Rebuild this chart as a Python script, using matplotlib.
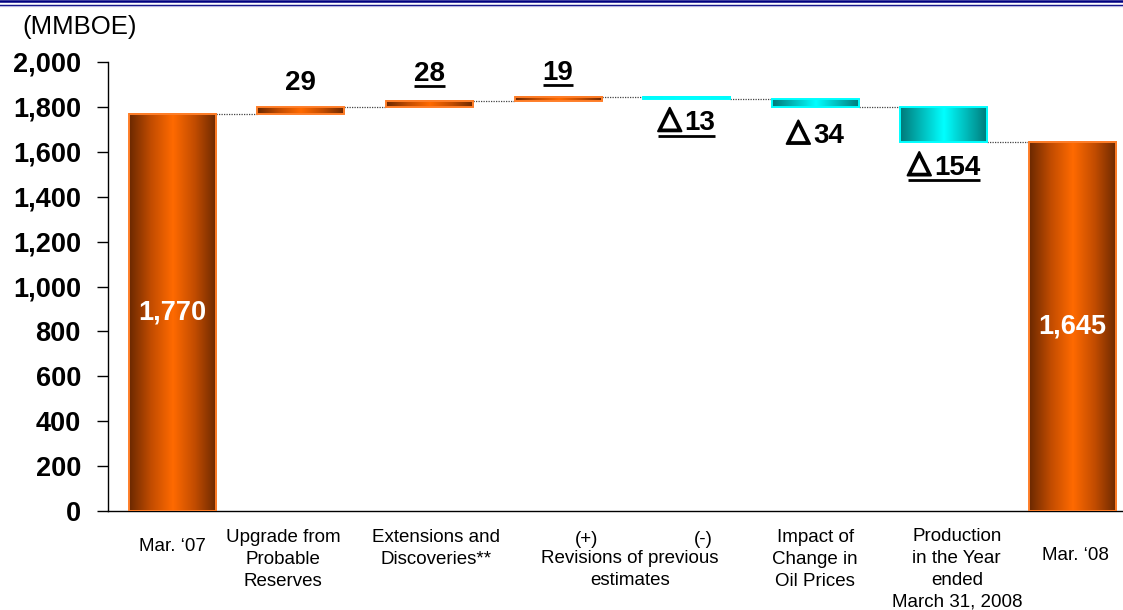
import numpy as np
import matplotlib
matplotlib.use("Agg")
import matplotlib.pyplot as plt
import matplotlib.patheffects as pe
from matplotlib.colors import LinearSegmentedColormap
from matplotlib.lines import Line2D

plt.rcParams['font.family'] = ['Liberation Sans', 'DejaVu Sans']

# reserves bridge, MMBOE
start_value = 1770
end_value = 1645
changes = [29, 28, 19, -13, -34, -154]
y_ticks = [0, 200, 400, 600, 800, 1000, 1200, 1400, 1600, 1800, 2000]

cat_labels = [
    "Mar. \u201807",
    "Upgrade from\nProbable\nReserves",
    "Extensions and\nDiscoveries**",
    "(+)",
    "(-)",
    "Impact of\nChange in\nOil Prices",
    "Production\nin the Year\nended\nMarch 31, 2008",
    "Mar. \u201808",
]
group_label = "Revisions of previous\nestimates"

# label placement (x in data units, top of text in pixels below the top of the figure)
cat_x = [0.0, 0.86, 2.05, 3.22, 4.13, 5.0, 6.1, 7.02]
cat_top = [538, 529, 529, 531, 531, 529, 528, 547]
group_x, group_top = 3.56, 550
label_offset = [24, 27, 24, -24, -29, -26]
underlined = [False, True, True, True, False, True]

W, H = 1123, 610
fig = plt.figure(figsize=(W / 100, H / 100), dpi=100)
ax = fig.add_axes([108 / W, 99 / H, 8 * 128.6 / W, 449 / H])

orange_cmap = LinearSegmentedColormap.from_list(
    "orange_bar", ["#6a2800", "#c24c00", "#ff6a00", "#c24c00", "#6a2800"])
cyan_cmap = LinearSegmentedColormap.from_list(
    "cyan_bar", ["#007878", "#00bcbc", "#00ffff", "#00bcbc", "#007878"])
grad = np.linspace(0, 1, 256).reshape(1, -1)

# running totals -> bar bottoms / heights
values = [start_value] + changes + [end_value]
bottoms, heights, levels = [], [], []
total = start_value
bottoms.append(0)
heights.append(start_value)
levels.append(total)
for c in changes:
    bottoms.append(total if c > 0 else total + c)
    heights.append(abs(c))
    total += c
    levels.append(total)
bottoms.append(0)
heights.append(end_value)
levels.append(end_value)

x = np.arange(len(values))
width = 0.677
is_up = [True] + [c > 0 for c in changes] + [True]
edge_cols = ["#ff7f2a" if up else "#00ffff" for up in is_up]

bars = ax.bar(x, heights, bottom=bottoms, width=width, facecolor="none",
              edgecolor=edge_cols, linewidth=1.4, zorder=3)
for bar, up in zip(bars, is_up):
    x0, y0 = bar.get_x(), bar.get_y()
    ax.imshow(grad, cmap=orange_cmap if up else cyan_cmap, aspect="auto",
              extent=(x0, x0 + bar.get_width(), y0, y0 + bar.get_height()),
              interpolation="bilinear", zorder=2)

# dotted connectors between consecutive bars
for i in range(len(values) - 1):
    ax.plot([i + width / 2, i + 1 - width / 2], [levels[i], levels[i]],
            color="#444444", lw=0.9, linestyle=(0, (1, 1)), zorder=1)

ax.set_xlim(-0.5, 7.5)
ax.set_ylim(0, 2000)
ax.set_yticks(y_ticks)
ax.set_yticklabels([f"{v:,}" for v in y_ticks], fontsize=19.5, fontweight="bold")
ax.tick_params(axis="y", length=8, width=1, pad=11.5, direction="out")
ax.set_xticks([])
for side in ("top", "right"):
    ax.spines[side].set_visible(False)
for side in ("left", "bottom"):
    ax.spines[side].set_linewidth(1.0)

# totals inside the end bars
for i in (0, len(values) - 1):
    ax.text(x[i], values[i] / 2, f"{values[i]:,}", color="white", fontsize=19.5,
            fontweight="bold", ha="center", va="center", zorder=4)

# change labels; decreases get a bold delta sign in front
fig.canvas.draw()
renderer = fig.canvas.get_renderer()
label_parts = []
for i, c in enumerate(changes):
    xi = i + 1
    ref = bottoms[xi] + heights[xi] if c > 0 else bottoms[xi]
    num = ax.annotate(f"{abs(c)}", xy=(xi, ref), xytext=(0, label_offset[i]),
                      textcoords="offset pixels", ha="center", va="center",
                      fontsize=20, fontweight="bold", zorder=4)
    parts = [num]
    if c < 0:
        tri = ax.annotate("\u25b3", xy=(xi, ref), xytext=(0, label_offset[i]),
                          textcoords="offset pixels", ha="center", va="center",
                          fontsize=22, fontweight="bold", family="DejaVu Sans",
                          zorder=4,
                          path_effects=[pe.withStroke(linewidth=1.5, foreground="black")])
        w_num = num.get_window_extent(renderer).width
        w_tri = tri.get_window_extent(renderer).width
        gap = 3
        total_w = w_tri + gap + w_num
        tri.xyann = (-total_w / 2 + w_tri / 2, label_offset[i] + 4.5)
        num.xyann = (total_w / 2 - w_num / 2, label_offset[i])
        parts = [tri, num]
    label_parts.append(parts)

# category labels below the axis
for lx, lt, top in zip(cat_x, cat_labels, cat_top):
    ax.annotate(lt, xy=(lx, 0), xycoords=("data", "axes fraction"),
                xytext=(0, 511 - top), textcoords="offset pixels",
                ha="center", va="top", fontsize=13.5, linespacing=1.37)
ax.annotate(group_label, xy=(group_x, 0), xycoords=("data", "axes fraction"),
            xytext=(0, 511 - group_top), textcoords="offset pixels",
            ha="center", va="top", fontsize=13.5, linespacing=1.37)

fig.text(22 / W, 1 - 27 / H, "(MMBOE)", fontsize=18.5, va="center", ha="left")

# header rules
for y_px, lw, col in [(1.2, 1.8, "#000080"), (4.7, 1.0, "#000080"), (6.4, 0.9, "#b8b8e0")]:
    fig.add_artist(Line2D([0, 1], [1 - y_px / H] * 2, transform=fig.transFigure,
                          color=col, lw=lw))

# underline selected change labels
fig.canvas.draw()
inv = fig.transFigure.inverted()
for parts, u in zip(label_parts, underlined):
    if not u:
        continue
    boxes = [p.get_window_extent(renderer) for p in parts]
    bx0 = min(b.x0 for b in boxes)
    bx1 = max(b.x1 for b in boxes)
    by = parts[-1].get_window_extent(renderer).y0 + 0.5
    (fx0, fy), (fx1, _) = inv.transform([(bx0, by), (bx1, by)])
    fig.add_artist(Line2D([fx0, fx1], [fy, fy], transform=fig.transFigure,
                          color="black", lw=2.0, solid_capstyle="butt"))

fig.savefig("out.png", dpi=100)
